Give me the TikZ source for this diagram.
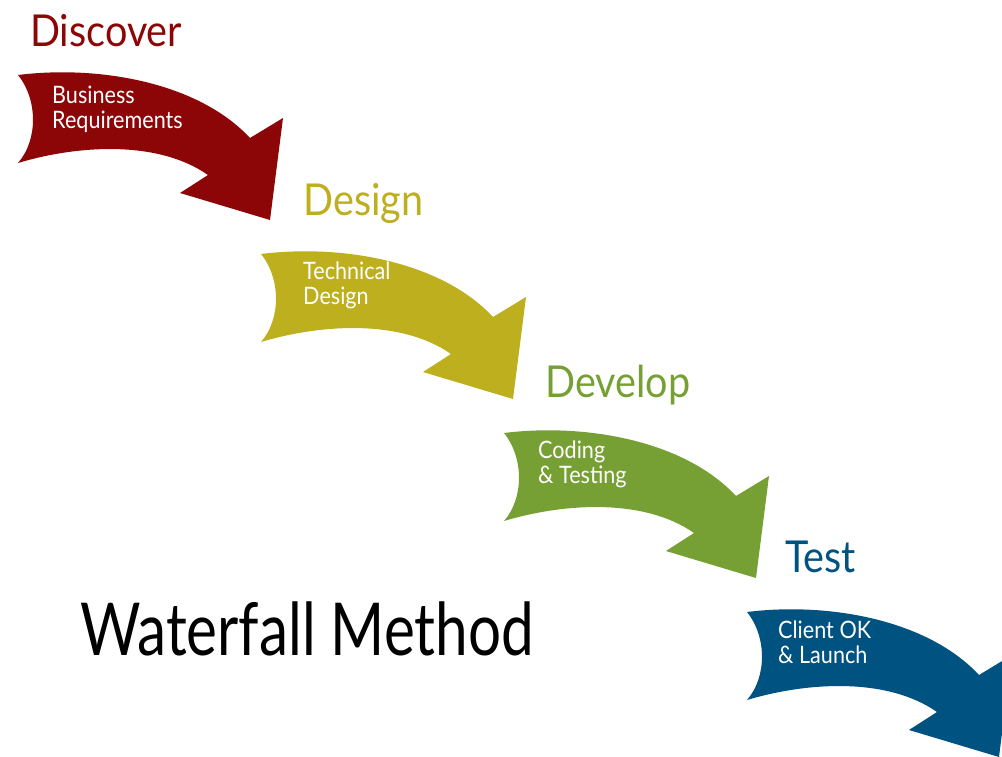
\documentclass[tikz,border=0pt]{standalone}
\usepackage{fontspec}
\setmainfont{Lato}[FakeStretch=0.9]
\newfontfamily\waterfallfont{Lato}[FakeStretch=0.8]

\definecolor{discoverred}{RGB}{140,6,8}
\definecolor{designolive}{RGB}{190,175,30}
\definecolor{developgreen}{RGB}{118,160,52}
\definecolor{testblue}{RGB}{0,82,128}

\tikzset{
    steptitle/.style={anchor=base west, inner sep=0pt, text=#1, font=\fontsize{44}{44}\selectfont},
    steplabel/.style={anchor=north west, inner sep=0pt, text=white, align=left, font=\fontsize{24}{25}\selectfont},
}

\begin{document}
\begin{tikzpicture}[x=1pt,y=-1pt]
    \useasboundingbox (0,0) rectangle (1002,757);
    \clip (0,0) rectangle (1002,757);

    % the four bent arrows, each one step further down and right
    \foreach \k/\col in {0/discoverred,1/designolive,2/developgreen,3/testblue}{
        \fill[\col, shift={(18+243*\k,70+179*\k)}]
            (0,5) .. controls (80,-5) and (180,12) .. (232,68) -- (265,48) -- (252,150)
            -- (162,123) -- (190,105) .. controls (140,70) and (60,75) .. (0,93)
            .. controls (20,70) and (20,30) .. (0,5) -- cycle;
    }

    \node[steptitle=discoverred](discover)at(30,47){Discover};
    \node[steptitle=designolive](design)at(303,215){Design};
    \node[steptitle=developgreen](develop)at(545,397){Develop};
    \node[steptitle=testblue](test)at(785,572){Test};

    \node[steplabel](business)at(52,86){Business\\Requirements};
    \node[steplabel](technical)at(303,262){Technical\\Design};
    \node[steplabel](coding)at(538,441){Coding\\\& Testing};
    \node[steplabel](client)at(778,621){Client OK\\\& Launch};

    \node[anchor=base west, inner sep=0pt, font=\waterfallfont\fontsize{73}{73}\selectfont](waterfall)at(80,655){Waterfall Method};
\end{tikzpicture}
\end{document}
